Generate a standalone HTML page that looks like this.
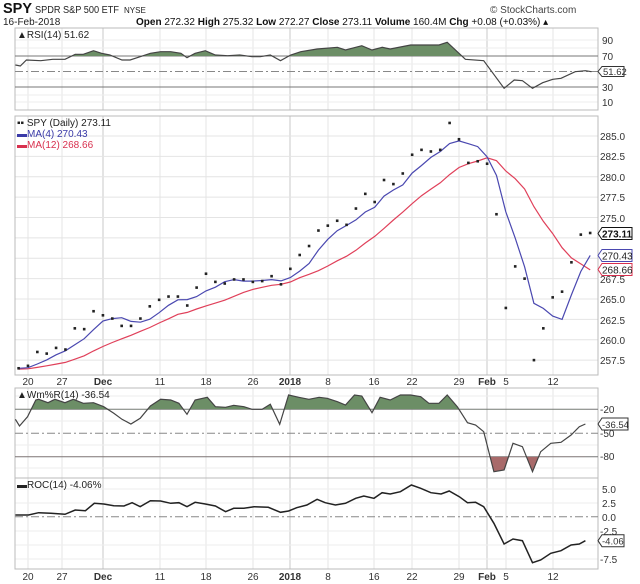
<!DOCTYPE html>
<html><head><meta charset="utf-8"><style>
html,body{margin:0;padding:0;background:#fff;}
svg{display:block;font-family:"Liberation Sans",sans-serif;}
.t{font-size:10px;fill:#222}
.ax{font-size:10px;fill:#333}
</style></head><body>
<svg id="s" width="640" height="584" viewBox="0 0 640 584">
<defs>
<clipPath id="rsiTop"><rect x="0" y="0" width="640" height="56"/></clipPath>
<clipPath id="wmTop"><rect x="0" y="380" width="640" height="29.3"/></clipPath>
<clipPath id="wmBot"><rect x="0" y="456.7" width="640" height="30"/></clipPath>
</defs>
<!-- header -->
<text x="3" y="13" style="font-size:15px;font-weight:bold" fill="#111" textLength="29" lengthAdjust="spacingAndGlyphs">SPY</text>
<text x="35" y="13" style="font-size:10px" fill="#222" textLength="84" lengthAdjust="spacingAndGlyphs">SPDR S&amp;P 500 ETF</text>
<text x="124" y="13" style="font-size:8px" fill="#222">NYSE</text>
<text x="490" y="13" style="font-size:10px" fill="#444">© StockCharts.com</text>
<text x="3" y="25" style="font-size:10px" fill="#222">16-Feb-2018</text>
<text x="136" y="25" style="font-size:10px" fill="#111"><tspan font-weight="bold">Open</tspan> 272.32 <tspan font-weight="bold">High</tspan> 275.32 <tspan font-weight="bold">Low</tspan> 272.27 <tspan font-weight="bold">Close</tspan> 273.11 <tspan font-weight="bold">Volume</tspan> 160.4M <tspan font-weight="bold">Chg</tspan> +0.08 (+0.03%) ▴</text>

<g id="vgrid"></g>
<g id="hgrid"></g>

<!-- RSI -->
<rect x="15" y="28" width="583" height="82" fill="none" stroke="#bbb"/>
<line x1="15" x2="598" y1="56" y2="56" stroke="#777"/>
<line x1="15" x2="598" y1="87" y2="87" stroke="#777"/>
<line x1="15" x2="598" y1="71.5" y2="71.5" stroke="#888" stroke-dasharray="8,3,2,3"/>
<path id="rsiFill" fill="#6c8e66" clip-path="url(#rsiTop)"/>
<path id="rsiLine" fill="none" stroke="#444" stroke-width="1.2"/>
<text x="17" y="38" class="t">▲RSI(14) 51.62</text>
<text x="602" y="44" class="ax">90</text>
<text x="602" y="60" class="ax">70</text>
<text x="602" y="91" class="ax">30</text>
<text x="602" y="106" class="ax">10</text>
<path d="M598,71.5 l4,-5 h22 v10 h-22 z" fill="#fff" stroke="#333"/>
<text x="603" y="75" class="ax" style="font-size:9.5px">51.62</text>

<!-- Price -->
<rect x="15" y="116" width="583" height="259" fill="none" stroke="#bbb"/>
<path id="ma12" fill="none" stroke="#e0405a" stroke-width="1.2"/>
<path id="ma4" fill="none" stroke="#4a48b0" stroke-width="1.2"/>
<g id="dots"></g>
<text x="17" y="126" class="t">▪▪ SPY (Daily) 273.11</text>
<text x="17" y="137" class="t" style="fill:#3a3aa8">▬MA(4) 270.43</text>
<text x="17" y="148" class="t" style="fill:#d8304e">▬MA(12) 268.66</text>
<text x="600" y="140" class="ax">285.0</text>
<text x="600" y="160" class="ax">282.5</text>
<text x="600" y="181" class="ax">280.0</text>
<text x="600" y="201" class="ax">277.5</text>
<text x="600" y="222" class="ax">275.0</text>
<text x="600" y="283" class="ax">267.5</text>
<text x="600" y="303" class="ax">265.0</text>
<text x="600" y="324" class="ax">262.5</text>
<text x="600" y="344" class="ax">260.0</text>
<text x="600" y="364" class="ax">257.5</text>
<path d="M598,233.5 l4,-6 h30 v12 h-30 z" fill="#fff" stroke="#111"/>
<text x="602" y="237.5" style="font-size:10px;font-weight:bold" fill="#111">273.11</text>
<path d="M598,255.5 l4,-6 h30 v12 h-30 z" fill="#fff" stroke="#4a48b0"/>
<text x="602" y="259.5" style="font-size:10px" fill="#222">270.43</text>
<path d="M598,269.5 l4,-6 h30 v12 h-30 z" fill="#fff" stroke="#d8304e"/>
<text x="602" y="273.5" style="font-size:10px" fill="#222">268.66</text>

<!-- x labels middle -->
<g>
<text x="28" y="385" text-anchor="middle" class="ax">20</text>
<text x="62" y="385" text-anchor="middle" class="ax">27</text>
<text x="103" y="385" text-anchor="middle" class="ax" font-weight="bold">Dec</text>
<text x="160" y="385" text-anchor="middle" class="ax">11</text>
<text x="206" y="385" text-anchor="middle" class="ax">18</text>
<text x="253" y="385" text-anchor="middle" class="ax">26</text>
<text x="290" y="385" text-anchor="middle" class="ax" font-weight="bold">2018</text>
<text x="328" y="385" text-anchor="middle" class="ax">8</text>
<text x="374" y="385" text-anchor="middle" class="ax">16</text>
<text x="412" y="385" text-anchor="middle" class="ax">22</text>
<text x="459" y="385" text-anchor="middle" class="ax">29</text>
<text x="487" y="385" text-anchor="middle" class="ax" font-weight="bold">Feb</text>
<text x="506" y="385" text-anchor="middle" class="ax">5</text>
<text x="553" y="385" text-anchor="middle" class="ax">12</text>
</g>

<!-- Wm%R -->
<rect x="15" y="388" width="583" height="90" fill="none" stroke="#bbb"/>
<line x1="15" x2="598" y1="409.3" y2="409.3" stroke="#777"/>
<line x1="15" x2="598" y1="456.7" y2="456.7" stroke="#777"/>
<line x1="15" x2="598" y1="433.3" y2="433.3" stroke="#888" stroke-dasharray="8,3,2,3"/>
<path id="wmFill" fill="#6c8e66" clip-path="url(#wmTop)"/>
<path id="wmFill2" fill="#a86a6a" clip-path="url(#wmBot)"/>
<path id="wmLine" fill="none" stroke="#444" stroke-width="1.2"/>
<text x="17" y="398" class="t">▲Wm%R(14) -36.54</text>
<text x="600" y="413" class="ax">-20</text>
<text x="600" y="437" class="ax">-50</text>
<text x="600" y="460" class="ax">-80</text>
<path d="M598,424 l4,-6 h26 v12 h-26 z" fill="#fff" stroke="#333"/>
<text x="602" y="428" class="ax" style="font-size:9.5px">-36.54</text>

<!-- ROC -->
<rect x="15" y="478" width="583" height="91" fill="none" stroke="#bbb"/>
<line x1="15" x2="598" y1="516.7" y2="516.7" stroke="#888" stroke-dasharray="8,3,2,3"/>
<path id="rocLine" fill="none" stroke="#222" stroke-width="1.5"/>
<text x="17" y="488" class="t">▬ROC(14) -4.06%</text>
<text x="602" y="493" class="ax">5.0</text>
<text x="602" y="507" class="ax">2.5</text>
<text x="602" y="521" class="ax">0.0</text>
<text x="600" y="535" class="ax">-2.5</text>
<text x="600" y="563" class="ax">-7.5</text>
<path d="M598,540.7 l4,-6 h22 v12 h-22 z" fill="#fff" stroke="#333"/>
<text x="602" y="544.7" class="ax" style="font-size:9.5px">-4.06</text>

<g>
<text x="28" y="580" text-anchor="middle" class="ax">20</text>
<text x="62" y="580" text-anchor="middle" class="ax">27</text>
<text x="103" y="580" text-anchor="middle" class="ax" font-weight="bold">Dec</text>
<text x="160" y="580" text-anchor="middle" class="ax">11</text>
<text x="206" y="580" text-anchor="middle" class="ax">18</text>
<text x="253" y="580" text-anchor="middle" class="ax">26</text>
<text x="290" y="580" text-anchor="middle" class="ax" font-weight="bold">2018</text>
<text x="328" y="580" text-anchor="middle" class="ax">8</text>
<text x="374" y="580" text-anchor="middle" class="ax">16</text>
<text x="412" y="580" text-anchor="middle" class="ax">22</text>
<text x="459" y="580" text-anchor="middle" class="ax">29</text>
<text x="487" y="580" text-anchor="middle" class="ax" font-weight="bold">Feb</text>
<text x="506" y="580" text-anchor="middle" class="ax">5</text>
<text x="553" y="580" text-anchor="middle" class="ax">12</text>
</g>
</svg>
<script>
(function(){
var NS="http://www.w3.org/2000/svg";
function el(t,a,p){var e=document.createElementNS(NS,t);for(var k in a)e.setAttribute(k,a[k]);(p||document.getElementById('s')).appendChild(e);return e;}
var vx=[28,62,103,160,206,253,290,328,374,412,459,487,506,553];
var vg=document.getElementById('vgrid');
var panels=[[28,110],[116,375],[388,478],[478,569]];
panels.forEach(function(p){vx.forEach(function(x){el('line',{x1:x,x2:x,y1:p[0],y2:p[1],stroke:(x==103||x==290||x==487)?'#c8c8c8':'#e4e4e4'},vg);});});
var hg=document.getElementById('hgrid');
function py(p){return 136+(285-p)*8.15;}
for(var p=257.5;p<=287.5;p+=2.5){var y=py(p);if(y>116&&y<375)el('line',{x1:15,x2:598,y1:y,y2:y,stroke:'#e4e4e4'},hg);}
[40,48,64,79,95,102].forEach(function(y){el('line',{x1:15,x2:598,y1:y,y2:y,stroke:'#eee'},hg);});
[396,421,445,468].forEach(function(y){el('line',{x1:15,x2:598,y1:y,y2:y,stroke:'#eee'},hg);});
[489,503,531,545,559].forEach(function(y){el('line',{x1:15,x2:598,y1:y,y2:y,stroke:'#eee'},hg);});
var c=[256.5,256.8,258.5,258.3,259.0,258.8,261.4,261.3,263.5,263.0,262.6,261.7,261.7,262.6,264.1,264.9,265.3,265.3,264.2,266.4,268.1,267.1,266.9,267.4,267.4,267.1,267.2,267.8,266.8,268.7,270.4,271.5,273.4,274.0,274.6,274.1,276.1,277.9,276.9,279.6,279.1,280.4,282.7,283.3,283.1,283.3,286.6,284.6,281.7,281.9,281.6,275.4,263.9,269.0,267.5,257.5,261.4,265.2,265.9,269.5,272.9,273.1];
var pre=[256.2,256.4,256.0,256.5,256.3,256.6,256.4,256.2,256.5,256.7,256.3];
var all=pre.concat(c);
function X(i){return 18.6+9.37*i;}
var d4='',d12='',dots=document.getElementById('dots');
for(var i=0;i<c.length;i++){var j=i+pre.length,s4=0,s12=0;
for(var k=0;k<4;k++)s4+=all[j-k];for(k=0;k<12;k++)s12+=all[j-k];
d4+=(i?'L':'M')+X(i).toFixed(1)+','+py(s4/4).toFixed(1);
d12+=(i?'L':'M')+X(i).toFixed(1)+','+py(s12/12).toFixed(1);
el('rect',{x:X(i)-1.3,y:py(c[i])-1.3,width:2.6,height:2.6,fill:'#222'},dots);}
document.getElementById('ma4').setAttribute('d',d4);
document.getElementById('ma12').setAttribute('d',d12);
var SX=2.46;
function pts(a,oy){var s=[];for(var i=0;i<a.length;i+=2)s.push([a[i]/SX,oy+a[i+1]/3]);return s;}
function line(s){return s.map(function(p,i){return (i?'L':'M')+p[0].toFixed(1)+','+p[1].toFixed(1);}).join('');}
function fill(s,y){return line(s)+'L'+s[s.length-1][0]+','+y+'L'+s[0][0]+','+y+'Z';}
var rsi=pts([38,195,50,198,65,180,100,182,130,178,160,178,185,163,205,163,230,152,250,160,270,165,300,180,320,180,345,170,370,160,395,155,420,155,445,160,460,173,480,160,505,152,530,165,560,167,590,165,620,170,640,170,665,165,690,182,715,165,740,155,780,147,830,142,850,150,890,137,915,150,940,142,960,147,1010,135,1080,135,1100,127,1145,178,1190,182,1240,265,1265,240,1285,242,1310,265,1335,248,1360,238,1380,235,1415,215,1440,212,1455,215],0);
document.getElementById('rsiLine').setAttribute('d',line(rsi));
document.getElementById('rsiFill').setAttribute('d',fill(rsi,56));
var wm=pts([38,118,48,138,68,110,88,60,95,58,118,68,135,58,160,68,180,58,205,70,230,68,255,80,280,100,300,118,322,132,345,115,370,78,395,58,420,60,440,70,460,103,480,60,510,52,530,80,555,82,575,76,600,80,620,88,645,88,665,73,688,133,710,45,735,52,760,58,785,52,805,55,830,65,850,75,872,45,890,48,915,98,935,52,960,60,985,45,1010,45,1035,50,1055,70,1080,70,1100,45,1125,80,1150,128,1170,135,1190,155,1215,275,1240,270,1262,190,1285,200,1310,275,1330,215,1355,190,1380,187,1405,165,1425,140,1440,132],380);
document.getElementById('wmLine').setAttribute('d',line(wm));
document.getElementById('wmFill').setAttribute('d',fill(wm,409.3));
document.getElementById('wmFill2').setAttribute('d',fill(wm,456.7));
var roc=pts([38,405,70,405,95,398,125,400,160,403,185,390,210,392,232,370,255,372,280,377,305,378,325,368,345,380,370,362,395,363,420,370,440,368,460,380,480,367,505,372,530,378,555,395,575,385,600,385,625,380,660,382,690,397,710,393,730,383,755,375,780,358,800,368,825,375,850,370,875,355,895,348,920,355,940,338,960,342,985,335,1012,315,1035,325,1060,338,1085,342,1105,333,1130,350,1150,368,1170,367,1190,380,1215,430,1240,492,1262,477,1285,482,1310,548,1330,540,1355,520,1380,512,1405,495,1425,492,1440,482],380);
document.getElementById('rocLine').setAttribute('d',line(roc));
})();
</script>
</body></html>
